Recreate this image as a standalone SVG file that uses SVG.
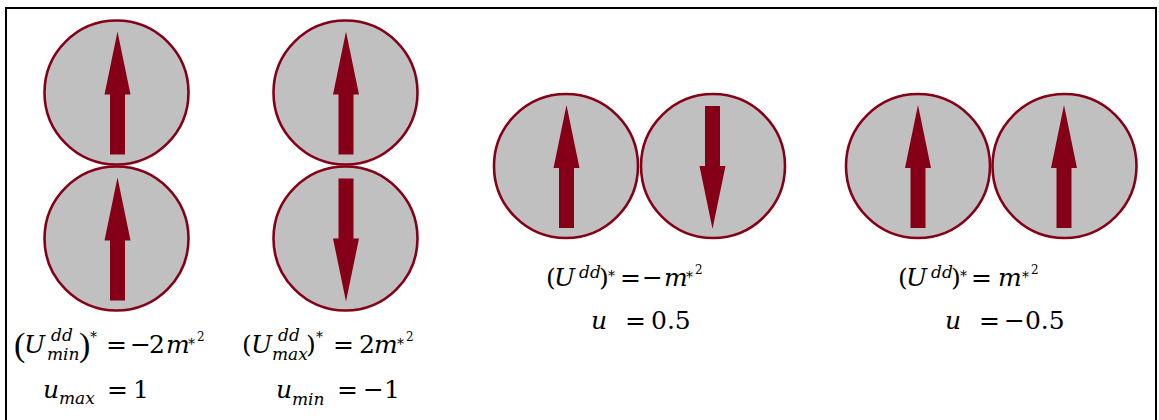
<svg xmlns="http://www.w3.org/2000/svg" xmlns:xlink="http://www.w3.org/1999/xlink" width="1159" height="420" viewBox="0 0 1159 420">
<style>
.bg{fill:#ffffff}
.frame{fill:none;stroke:#000000;stroke-width:2}
.ball{fill:#c0c0c0;stroke:#850017;stroke-width:2.6}
.arrow{fill:#850017}
text{font-family:"DejaVu Serif","Liberation Serif",serif;fill:#000000}
.it{font-style:italic;font-size:25px}
.rm{font-size:25px}
.sm{font-style:italic;font-size:17px}
.st{font-size:14px}
.s2{font-size:12px}
.big{font-size:34px;font-family:"Liberation Serif",serif}
</style>
<defs>
<polygon id="up" class="arrow" points="0,-61 13,2 7.5,2 7.5,62 -7.5,62 -7.5,2 -13,2"/>
<polygon id="down" class="arrow" points="0,63 13,0 7.5,0 7.5,-60 -7.5,-60 -7.5,0 -13,0"/>
</defs>
<rect class="bg" x="0" y="0" width="1159" height="420"/>
<rect class="frame" x="6" y="8" width="1150" height="420"/>

<g id="node-c1-top">
<circle class="ball" cx="116.5" cy="92.5" r="72"/>
<use xlink:href="#up" x="117.5" y="92.5"/>
</g>
<g id="node-c1-bottom">
<circle class="ball" cx="116.5" cy="238.5" r="72"/>
<use xlink:href="#up" x="117.5" y="238.5"/>
</g>
<g id="node-c2-top">
<circle class="ball" cx="345.5" cy="92.5" r="72"/>
<use xlink:href="#up" x="346" y="92.5"/>
</g>
<g id="node-c2-bottom">
<circle class="ball" cx="345.5" cy="238.5" r="72"/>
<use xlink:href="#down" x="346" y="238.5"/>
</g>
<g id="node-c3-left">
<circle class="ball" cx="566" cy="166" r="72"/>
<use xlink:href="#up" x="566.5" y="166"/>
</g>
<g id="node-c3-right">
<circle class="ball" cx="713" cy="166" r="72"/>
<use xlink:href="#down" x="712.5" y="166"/>
</g>
<g id="node-c4-left">
<circle class="ball" cx="918" cy="166" r="72"/>
<use xlink:href="#up" x="918" y="166"/>
</g>
<g id="node-c4-right">
<circle class="ball" cx="1064.5" cy="166" r="72"/>
<use xlink:href="#up" x="1064" y="166"/>
</g>

<g id="label-c1">
<text class="big" x="14" y="356">(</text>
<text class="it" x="24" y="353">U</text>
<text class="sm" x="51" y="341">dd</text>
<text class="sm" x="47" y="360">min</text>
<text class="big" x="79" y="356">)</text>
<text class="st" x="90" y="342">*</text>
<text class="rm" x="106" y="353">=</text>
<text class="rm" x="130" y="353">−</text>
<text class="rm" x="149" y="353">2</text>
<text class="it" x="166" y="353">m</text>
<text class="st" x="188" y="349">*</text>
<text class="s2" x="197" y="341">2</text>
<text class="it" x="43" y="398">u</text>
<text class="sm" x="59" y="404">max</text>
<text class="rm" x="107" y="398">=</text>
<text class="rm" x="133" y="398">1</text>
</g>
<g id="label-c2">
<text class="rm" x="242" y="353">(</text>
<text class="it" x="251" y="353">U</text>
<text class="sm" x="278" y="341">dd</text>
<text class="sm" x="272" y="360">max</text>
<text class="rm" x="306" y="353">)</text>
<text class="st" x="316" y="342">*</text>
<text class="rm" x="333" y="353">=</text>
<text class="rm" x="359" y="353">2</text>
<text class="it" x="374" y="353">m</text>
<text class="st" x="397" y="349">*</text>
<text class="s2" x="406" y="341">2</text>
<text class="it" x="276" y="398">u</text>
<text class="sm" x="292" y="405">min</text>
<text class="rm" x="337" y="398">=</text>
<text class="rm" x="363" y="398">−1</text>
</g>
<g id="label-c3">
<text class="rm" x="546" y="286">(</text>
<text class="it" x="554" y="286">U</text>
<text class="sm" x="579" y="278">dd</text>
<text class="rm" x="599" y="286">)</text>
<text class="st" x="608" y="281">*</text>
<text class="rm" x="620" y="286">=</text>
<text class="rm" x="642" y="286">−</text>
<text class="it" x="664" y="286">m</text>
<text class="st" x="686" y="282">*</text>
<text class="s2" x="695" y="274">2</text>
<text class="it" x="591" y="329">u</text>
<text class="rm" x="625" y="329">=</text>
<text class="rm" x="651" y="329">0.5</text>
</g>
<g id="label-c4">
<text class="rm" x="898" y="286">(</text>
<text class="it" x="906" y="286">U</text>
<text class="sm" x="931" y="278">dd</text>
<text class="rm" x="951" y="286">)</text>
<text class="st" x="960" y="281">*</text>
<text class="rm" x="971" y="286">=</text>
<text class="it" x="998" y="286">m</text>
<text class="st" x="1022" y="282">*</text>
<text class="s2" x="1031" y="274">2</text>
<text class="it" x="945" y="329">u</text>
<text class="rm" x="979" y="329">=</text>
<text class="rm" x="1004" y="329">−0.5</text>
</g>
</svg>
